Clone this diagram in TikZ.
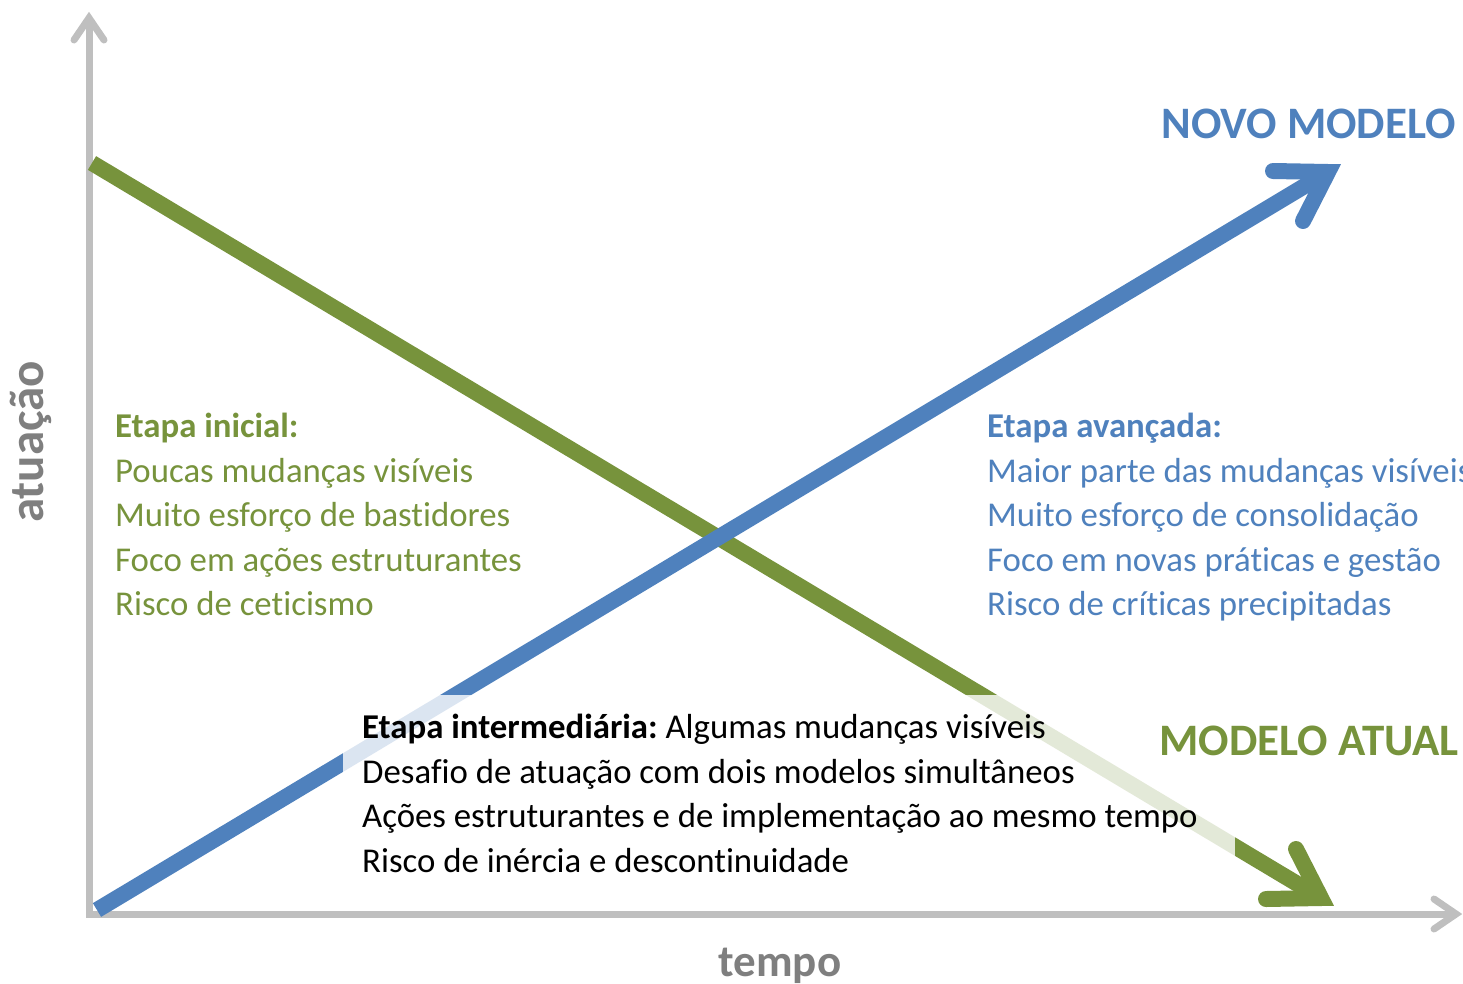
\documentclass[tikz,border=0pt]{standalone}
\usepackage{fontspec}
\setmainfont{Carlito}[Ligatures=NoCommon]
\usetikzlibrary{calc}
\definecolor{grn}{HTML}{77933C}
\definecolor{blu}{HTML}{4F81BD}
\definecolor{axg}{HTML}{BFBFBF}
\definecolor{lblg}{HTML}{7F7F7F}
\frenchspacing
\begin{document}
\begin{tikzpicture}[x=1pt,y=-1pt,
  axisline/.style={draw=axg, line width=7pt, line join=miter},
  axishead/.style={draw=axg, line width=7pt, line cap=round, line join=miter},
  greenline/.style={draw=grn, line width=16pt},
  greenhead/.style={draw=grn, line width=16pt, line cap=round, line join=miter, miter limit=20},
  blueline/.style={draw=blu, line width=16pt},
  bluehead/.style={draw=blu, line width=16pt, line cap=round, line join=miter, miter limit=20},
  fadebox/.style={fill=white, fill opacity=0.8, inner sep=0pt, anchor=north west},
  bodytxt/.style={anchor=base west, inner sep=0pt, font=\fontsize{34.8}{40}\selectfont},
  gtxt/.style={bodytxt, text=grn},
  btxt/.style={bodytxt, text=blu},
  ktxt/.style={bodytxt, text=black},
  titletxt/.style={inner sep=0pt, font=\fontsize{45}{50}\selectfont\bfseries},
  axlabel/.style={inner sep=0pt, text=lblg, font=\fontsize{45}{50}\selectfont\bfseries}
]
\useasboundingbox (0,0) rectangle (1463,983);
\clip (0,0) rectangle (1463,983);

% axes
\coordinate (ytip) at (89,18);
\coordinate (orig) at (89,914);
\coordinate (xtip) at (1456,914);
\draw[axisline] (ytip) -- (orig) -- (xtip);
\draw[axishead] ($(ytip)+(-15,22)$) -- (ytip) -- ($(ytip)+(15,22)$);
\draw[axishead] ($(xtip)+(-22,-15)$) -- (xtip) -- ($(xtip)+(-22,15)$);

% green line (modelo atual)
\coordinate (gs) at (92,163);
\coordinate (gt) at (1321,898);
\draw[greenline] (gs) -- (gt);
\draw[greenhead] ($(gt)+(-25,-49)$) -- (gt) -- ($(gt)+(-55,1)$);

% blue line (novo modelo)
\coordinate (bs) at (97,910);
\coordinate (bt) at (1328,172);
\draw[blueline] (bs) -- (bt);
\draw[bluehead] ($(bt)+(-55,-1)$) -- (bt) -- ($(bt)+(-25,49)$);

% fading box
\node[fadebox, minimum width=892pt, minimum height=198pt] (fade) at (343,695) {};

% axis labels
\node[axlabel, rotate=90, anchor=base, font=\fontsize{49}{54}\selectfont\bfseries] (yl) at (43,442) {atuação};
\node[axlabel, anchor=base] (xl) at (780,976) {tempo};

% titles
\node[titletxt, text=blu, anchor=base east] (novo) at (1456,138) {NOVO MODELO};
\node[titletxt, text=grn, anchor=base east] (atual) at (1459,755) {MODELO ATUAL};

% initial stage
\node[gtxt] (i1) at (115,437) {\bfseries Etapa inicial:};
\node[gtxt] (i2) at (115,482) {Poucas mudanças visíveis};
\node[gtxt] (i3) at (115,526) {Muito esforço de bastidores};
\node[gtxt] (i4) at (115,571) {Foco em ações estruturantes};
\node[gtxt] (i5) at (115,615) {Risco de ceticismo};

% advanced stage
\node[btxt] (a1) at (987,437) {\bfseries Etapa avançada:};
\node[btxt] (a2) at (987,482) {Maior parte das mudanças visíveis};
\node[btxt] (a3) at (987,526) {Muito esforço de consolidação};
\node[btxt] (a4) at (987,571) {Foco em novas práticas e gestão};
\node[btxt] (a5) at (987,615) {Risco de críticas precipitadas};

% intermediate stage
\node[ktxt] (m1) at (362,738) {\textbf{Etapa intermediária:} Algumas mudanças visíveis};
\node[ktxt] (m2) at (362,783) {Desafio de atuação com dois modelos simultâneos};
\node[ktxt] (m3) at (362,827) {Ações estruturantes e de implementação ao mesmo tempo};
\node[ktxt] (m4) at (362,872) {Risco de inércia e descontinuidade};
\end{tikzpicture}
\end{document}
